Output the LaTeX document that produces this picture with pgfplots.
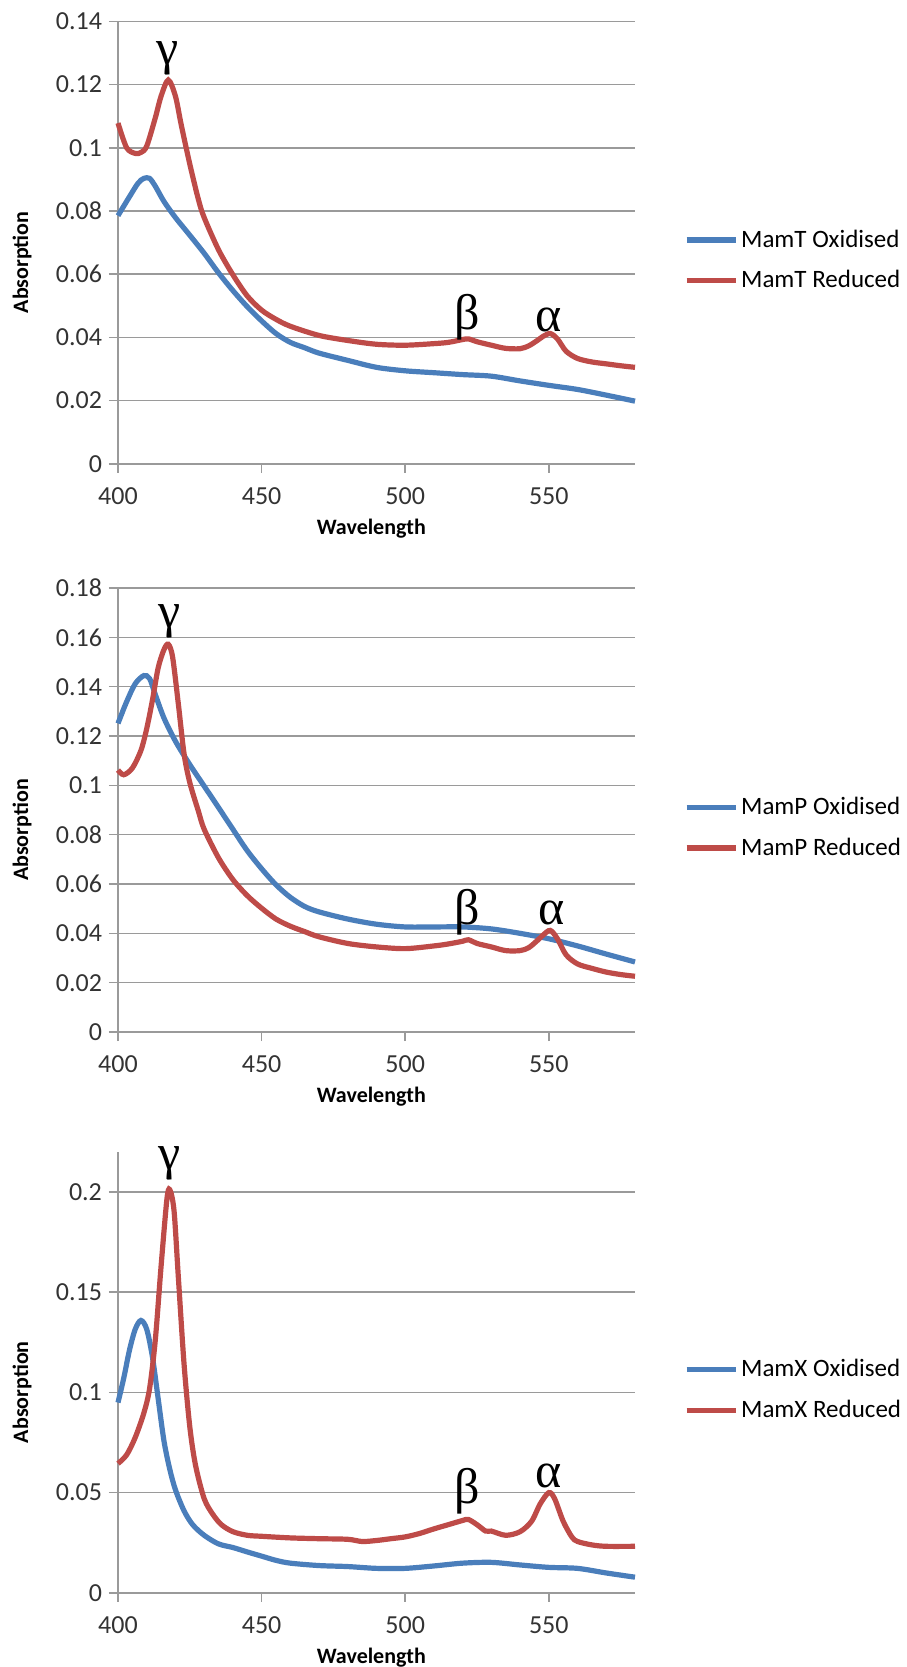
\documentclass[border=0pt]{standalone}
\usepackage{fontspec}
\setmainfont{Carlito}[BoldFont={Carlito Bold}]
\newfontfamily\greekfont{Liberation Serif}
\usepackage{pgfplots}
\pgfplotsset{compat=1.18}

\definecolor{exblue}{HTML}{4A7EBB}
\definecolor{exred}{HTML}{BE4B48}
\definecolor{gridgray}{HTML}{9A9A9A}

\pgfplotsset{spec/.style={
  scale only axis, width=258.5pt,
  xmin=400, xmax=580, xtick={400,450,500,550}, ymin=0,
  axis lines*=left, axis line style={gridgray, line width=0.8pt},
  ymajorgrids, grid style={gridgray, line width=0.8pt},
  tick align=outside, major tick length=4.5pt, tick style={gridgray, line width=0.8pt},
  ticklabel style={font=\fontsize{13}{15}\selectfont, text=black!80},
  /pgf/number format/assume math mode=true,
  yticklabel style={/pgf/number format/fixed, /pgf/number format/precision=2, xshift=0pt},
  xticklabel style={/pgf/number format/1000 sep={}, yshift=-4pt},
  xlabel={Wavelength}, ylabel={Absorption},
  every axis y label/.style={at={(axis description cs:0,0.455)}, xshift=-48pt, rotate=90, anchor=center,
    font=\fontsize{11}{12}\selectfont\bfseries},
  every axis x label/.style={at={(axis description cs:0.49,0)}, yshift=-32.5pt, anchor=center,
    font=\fontsize{11}{12}\selectfont\bfseries},
  clip=false,
  legend cell align=left,
  legend style={at={(1.09,0.46)}, anchor=west, draw=none, fill=none,
    font=\fontsize{12.5}{14}\selectfont, row sep=6pt, inner xsep=1pt,
    nodes={inner xsep=1.5pt}},
  legend image code/.code={\draw[#1] (0pt,0pt) -- (24.5pt,0pt);},
  every axis plot/.append style={line width=2.6pt, smooth, mark=none},
}}
\newcommand{\gk}[1]{{\greekfont\fontsize{25}{25}\selectfont #1}}

\begin{document}
\begin{tikzpicture}
\path[use as bounding box] (0,0) rectangle (453pt,-833.5pt);

% MamT
\begin{axis}[spec, at={(59pt,-231.85pt)}, anchor=south west, height=221.2pt,
  ymax=0.14, ytick={0,0.02,0.04,0.06,0.08,0.1,0.12,0.14}]
\addplot[exblue] coordinates {(400,0.0785) (404,0.0845) (407,0.0888) (409,0.0903) (411,0.0903)
 (413,0.0878) (416,0.0830) (420,0.0779) (425,0.0723) (430,0.0666) (435,0.0604) (440,0.0548)
 (445,0.0497) (450,0.0452) (455,0.0412) (460,0.0384) (465,0.0367) (470,0.0350) (480,0.0327)
 (490,0.0305) (500,0.0294) (510,0.0288) (520,0.0282) (530,0.0277) (540,0.0262) (550,0.0248)
 (560,0.0235) (570,0.0217) (580,0.0198)};
\addlegendentry{MamT Oxidised}
\addplot[exred] coordinates {(400,0.1078) (403,0.1000) (406,0.0982) (408,0.0985) (410,0.1005)
 (413,0.1095) (415,0.1163) (417.5,0.1214) (420,0.1163) (422,0.1073) (425,0.0948) (428,0.0836)
 (430,0.0779) (435,0.0677) (440,0.0598) (445,0.0531) (450,0.0486) (455,0.0457) (460,0.0435)
 (470,0.0406) (480,0.0390) (490,0.0378) (500,0.0375) (510,0.0380) (515,0.0384) (520,0.0393)
 (522,0.0395) (525,0.0386) (530,0.0375) (535,0.0365) (540,0.0364) (543,0.0373) (546,0.0390)
 (548,0.0403) (550.5,0.0412) (553,0.0395) (556,0.0356) (560,0.0333) (565,0.0322) (570,0.0316)
 (575,0.0310) (580,0.0305)};
\addlegendentry{MamT Reduced}
\node at (axis cs:417.4,0.1284) {\gk{γ}};
\node at (axis cs:521.7,0.0465) {\gk{β}};
\node at (axis cs:550.0,0.0456) {\gk{α}};
\end{axis}

% MamP
\begin{axis}[spec, at={(59pt,-516pt)}, anchor=south west, height=222pt,
  ymax=0.18, ytick={0,0.02,0.04,0.06,0.08,0.1,0.12,0.14,0.16,0.18}]
\addplot[exblue] coordinates {(400,0.1251) (403,0.1339) (406,0.1412) (409,0.1445) (411,0.1433)
 (413,0.1368) (416,0.1273) (420,0.1179) (425,0.1084) (430,0.0997) (435,0.0910) (440,0.0822)
 (445,0.0735) (450,0.0662) (455,0.0597) (460,0.0546) (465,0.0509) (470,0.0487) (480,0.0458)
 (490,0.0437) (500,0.0426) (510,0.0426) (520,0.0426) (530,0.0418) (540,0.0400) (550,0.0378)
 (560,0.0349) (570,0.0316) (580,0.0284)};
\addlegendentry{MamP Oxidised}
\addplot[exred] coordinates {(400,0.1062) (402,0.1043) (405,0.1070) (408,0.1142) (410,0.1230)
 (412,0.1346) (414,0.1477) (416,0.1550) (417.5,0.1572) (419,0.1521) (421,0.1331) (423,0.1128)
 (425,0.1011) (428,0.0895) (430,0.0822) (435,0.0706) (440,0.0618) (445,0.0553) (450,0.0502)
 (455,0.0458) (460,0.0429) (465,0.0407) (470,0.0386) (480,0.0359) (490,0.0345) (500,0.0338)
 (510,0.0349) (515,0.0357) (520,0.0368) (522,0.0374) (525,0.0359) (530,0.0345) (535,0.0330)
 (540,0.0330) (543,0.0342) (546,0.0371) (548,0.0393) (550.5,0.0412) (553,0.0378) (556,0.0313)
 (560,0.0276) (565,0.0258) (570,0.0243) (575,0.0233) (580,0.0226)};
\addlegendentry{MamP Reduced}
\node at (axis cs:417.9,0.1666) {\gk{γ}};
\node at (axis cs:521.5,0.0487) {\gk{β}};
\node at (axis cs:551.0,0.0483) {\gk{α}};
\end{axis}

% MamX
\begin{axis}[spec, at={(59pt,-796.4pt)}, anchor=south west, height=220.5pt,
  ymax=0.22, ytick={0,0.05,0.1,0.15,0.2}]
\addplot[exblue] coordinates {(400,0.0949) (402,0.1071) (404,0.1211) (406,0.1315) (408,0.1359)
 (410,0.1315) (412,0.1176) (414,0.0967) (416,0.0758) (418,0.0618) (420,0.0514) (423,0.0409)
 (426,0.0340) (430,0.0287) (435,0.0244) (440,0.0226) (445,0.0204) (450,0.0183) (455,0.0162)
 (460,0.0148) (470,0.0136) (480,0.0131) (490,0.0122) (500,0.0122) (510,0.0134) (520,0.0148)
 (530,0.0152) (540,0.0139) (550,0.0127) (560,0.0122) (570,0.0099) (580,0.0078)};
\addlegendentry{MamX Oxidised}
\addplot[exred] coordinates {(400,0.0645) (403,0.0688) (406,0.0775) (409,0.0897) (411,0.1019)
 (413,0.1263) (415,0.1629) (417,0.1960) (418,0.2012) (419.5,0.1908) (421,0.1577) (423,0.1141)
 (425,0.0828) (427,0.0636) (430,0.0470) (433,0.0392) (436,0.0340) (440,0.0305) (445,0.0287)
 (450,0.0282) (460,0.0274) (470,0.0270) (480,0.0267) (485,0.0256) (490,0.0261) (495,0.0270)
 (500,0.0279) (505,0.0296) (510,0.0319) (515,0.0340) (520,0.0361) (522,0.0366) (525,0.0340)
 (528,0.0308) (530,0.0308) (535,0.0287) (540,0.0305) (544,0.0357) (547,0.0444) (550,0.0500)
 (552,0.0470) (555,0.0357) (558,0.0279) (560,0.0256) (565,0.0239) (570,0.0232) (580,0.0232)};
\addlegendentry{MamX Reduced}
\node at (axis cs:417.9,0.2143) {\gk{γ}};
\node at (axis cs:521.5,0.0505) {\gk{β}};
\node at (axis cs:550.0,0.0584) {\gk{α}};
\end{axis}
\end{tikzpicture}
\end{document}
